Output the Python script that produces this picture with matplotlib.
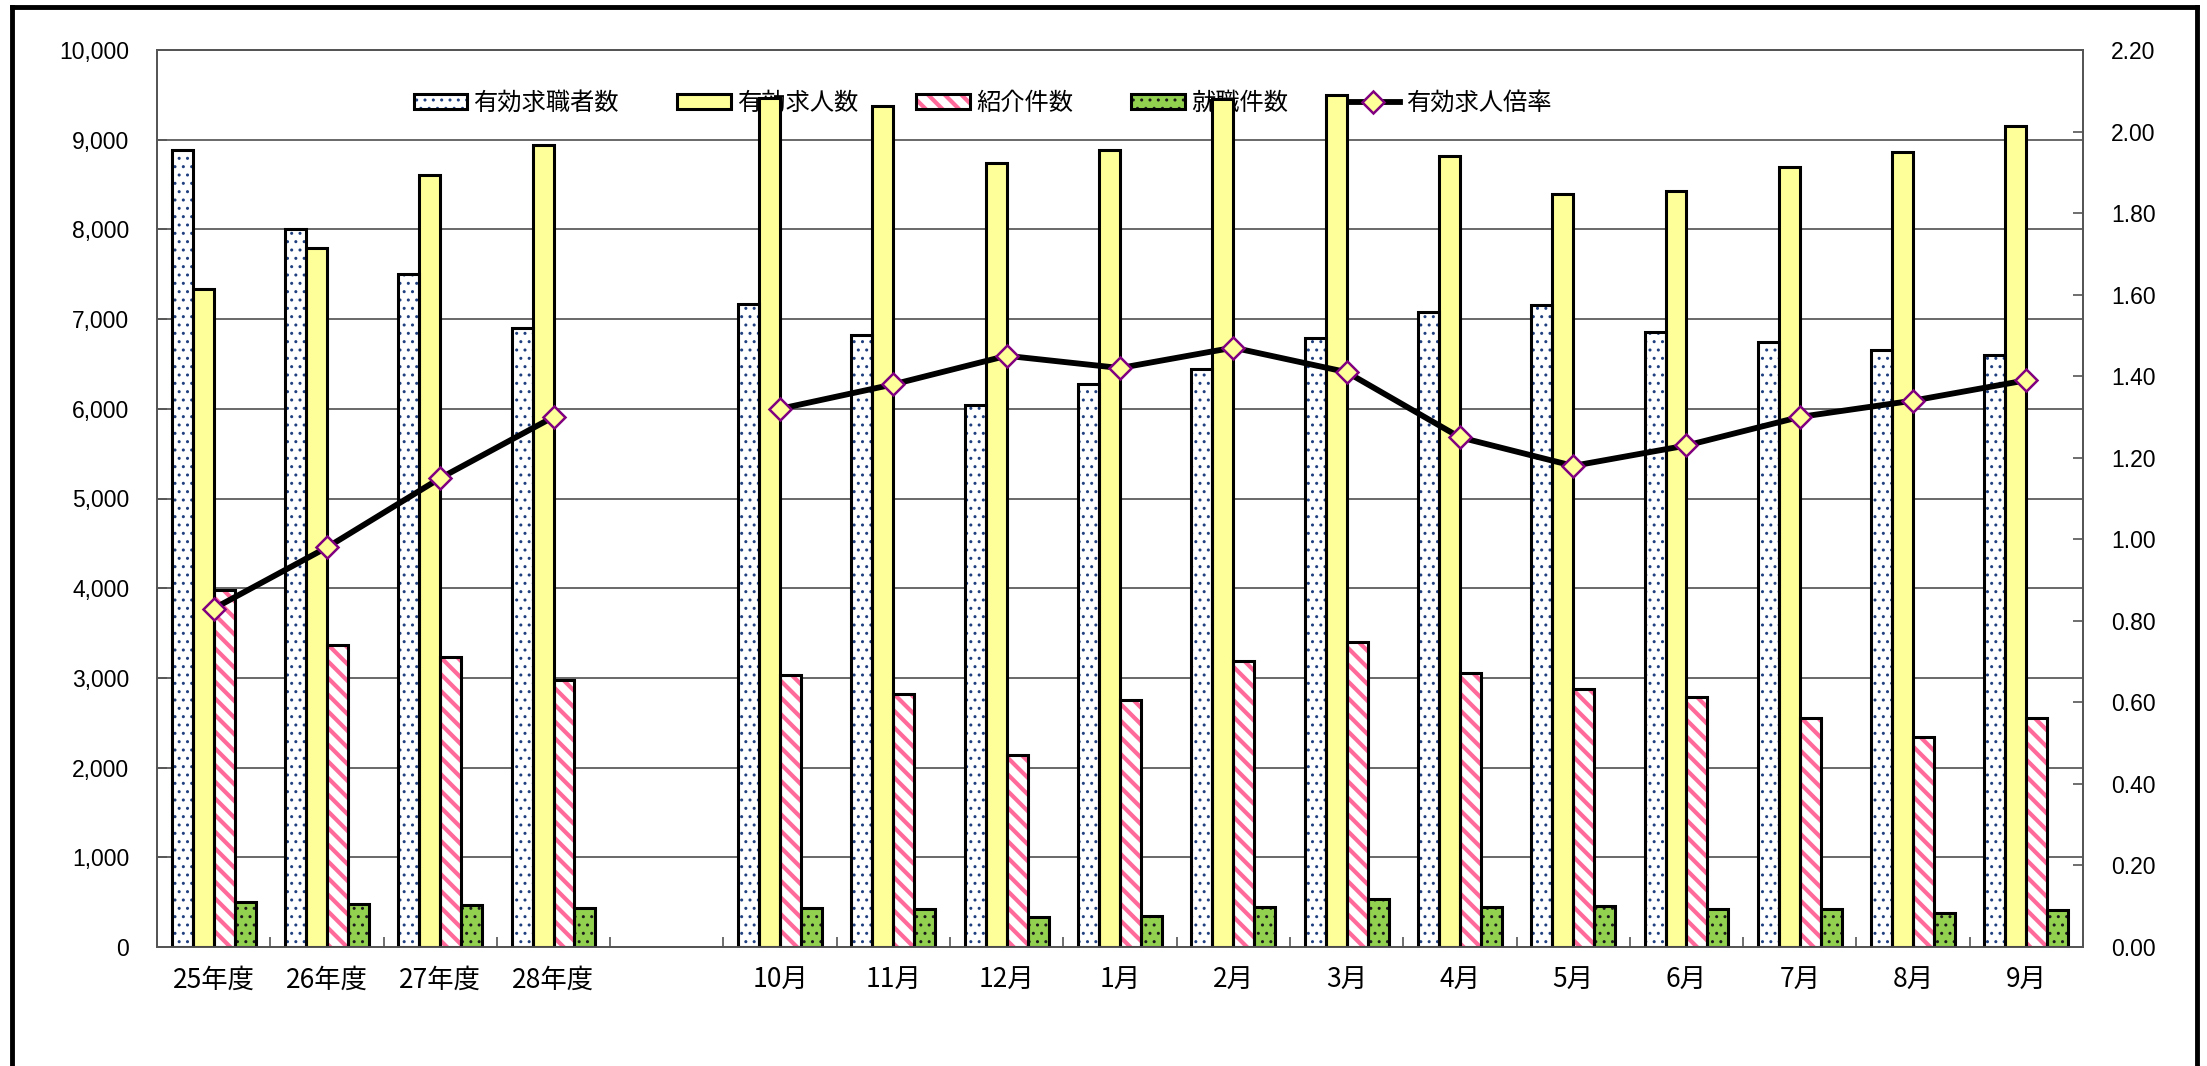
import matplotlib
matplotlib.use("Agg")
import matplotlib.pyplot as plt
import numpy as np
from matplotlib.lines import Line2D
from matplotlib.patches import Rectangle
from matplotlib.ticker import FuncFormatter, MultipleLocator
from matplotlib.legend_handler import HandlerTuple

plt.rcParams['font.family'] = ['Noto Sans CJK JP', 'DejaVu Sans']
plt.rcParams['hatch.linewidth'] = 1.0

# --- data ---
categories = ["25年度", "26年度", "27年度", "28年度", "",
              "10月", "11月", "12月", "1月", "2月", "3月",
              "4月", "5月", "6月", "7月", "8月", "9月"]
seekers = [8880, 8000, 7500, 6900, np.nan,
           7170, 6820, 6040, 6280, 6440, 6790,
           7080, 7160, 6860, 6750, 6650, 6600]
openings = [7340, 7790, 8610, 8940, np.nan,
            9470, 9380, 8740, 8890, 9450, 9500,
            8820, 8400, 8430, 8700, 8860, 9150]
referrals = [3980, 3370, 3230, 2980, np.nan,
             3030, 2820, 2140, 2750, 3190, 3400,
             3050, 2880, 2790, 2550, 2340, 2550]
placements = [500, 480, 470, 440, np.nan,
              440, 420, 340, 350, 450, 530,
              450, 460, 420, 420, 380, 410]
ratio = [0.83, 0.98, 1.15, 1.30, np.nan,
         1.32, 1.38, 1.45, 1.42, 1.47, 1.41,
         1.25, 1.18, 1.23, 1.30, 1.34, 1.39]

names = ["有効求職者数", "有効求人数", "紹介件数", "就職件数"]
line_name = "有効求人倍率"

STRIPE = "\\\\"
STRIPE_LW = 3.0


def set_hlw(p, lw):
    if hasattr(p, "set_hatch_linewidth"):
        p.set_hatch_linewidth(lw)
    else:
        p._hatch_linewidth = lw


fig = plt.figure(figsize=(22.07, 10.66), dpi=100)
ax = fig.add_axes([157/2207, 1-947/1066, 1926/2207, 897/1066])
ax2 = ax.twinx()

x = np.arange(len(categories))
w = 0.185
series = [seekers, openings, referrals, placements]
faces = ["white", "#FFFF99", "white", "#92D050"]
hatch_cols = ["#1F3F7F", "#FFFF99", "#FF6A9A", "#1a1a1a"]
hatches = ["..", None, STRIPE, ".."]

handles = []
for i, vals in enumerate(series):
    off = (i - 1.5) * w
    lw_h = STRIPE_LW if hatches[i] == STRIPE else 1.0
    with plt.rc_context({'hatch.linewidth': lw_h}):
        b1 = ax.bar(x + off, vals, w, color=faces[i], edgecolor=hatch_cols[i],
                    hatch=hatches[i], linewidth=0, zorder=2)
    for p in b1:
        set_hlw(p, lw_h)
    b2 = ax.bar(x + off, vals, w, facecolor="none", edgecolor="black",
                linewidth=2.2, zorder=3)
    handles.append((b1[0], b2[0]))

mk = dict(marker="D", markersize=11, markerfacecolor="#FFFF99",
          markeredgecolor="#800080", markeredgewidth=1.8)
ln, = ax2.plot(x, ratio, color="black", lw=4.2, zorder=5, **mk)

# axes
ax.set_xlim(-0.5, len(categories) - 0.5)
ax.set_ylim(0, 10000)
ax2.set_ylim(0, 2.2)
ax.yaxis.set_major_locator(MultipleLocator(1000))
ax2.yaxis.set_major_locator(MultipleLocator(0.2))
ax.yaxis.set_major_formatter(FuncFormatter(lambda v, p: f"{int(v):,}"))
ax2.yaxis.set_major_formatter(FuncFormatter(lambda v, p: f"{v:.2f}"))
ax.grid(axis="y", color="#404040", lw=1.1, zorder=0)
ax.set_axisbelow(True)

ax.set_xticks(np.arange(-0.5, len(categories), 1.0))
ax.set_xticklabels([])
ax.set_xticks(x, minor=True)
ax.set_xticklabels(categories, minor=True, fontsize=19)
ax.tick_params(axis="x", which="major", direction="in", length=7, width=1.2, color="#555555")
ax.tick_params(axis="x", which="minor", length=0, pad=14)
ax.tick_params(axis="y", direction="in", length=7, width=1.2, color="#555555", pad=20)
ax2.tick_params(axis="y", direction="in", length=7, width=1.2, color="#555555", pad=20)
for lab in ax.get_yticklabels() + ax2.get_yticklabels():
    lab.set_family("Liberation Sans")
    lab.set_fontsize(16.5)
for a in (ax, ax2):
    for s in a.spines.values():
        s.set_color("#555555")
        s.set_linewidth(1.3)

line_handle = Line2D([0], [0], color="black", lw=4.2, **mk)
with plt.rc_context({'hatch.linewidth': 1.0}):
    leg = ax.legend(handles + [line_handle], names + [line_name],
                    handler_map={tuple: HandlerTuple(ndivide=1, pad=0)},
                    loc="center left", bbox_to_anchor=(0.122, 0.941), ncol=5,
                    frameon=False, fontsize=17.5, handlelength=2.2, handleheight=0.6,
                    handletextpad=0.25, columnspacing=2.4)
leg.set_zorder(1)
for r in leg.findobj(lambda a: isinstance(a, Rectangle) and a.get_hatch() == STRIPE):
    set_hlw(r, STRIPE_LW)

# outer frame
for (xs, ys) in [((12, 12), (1066, 7)), ((12, 2197), (7, 7)), ((2197, 2197), (7, 1066))]:
    fig.add_artist(Line2D([v/2207 for v in xs], [1 - v/1066 for v in ys],
                          color="black", lw=3.5, transform=fig.transFigure))

fig.savefig("out.png", dpi=100)
